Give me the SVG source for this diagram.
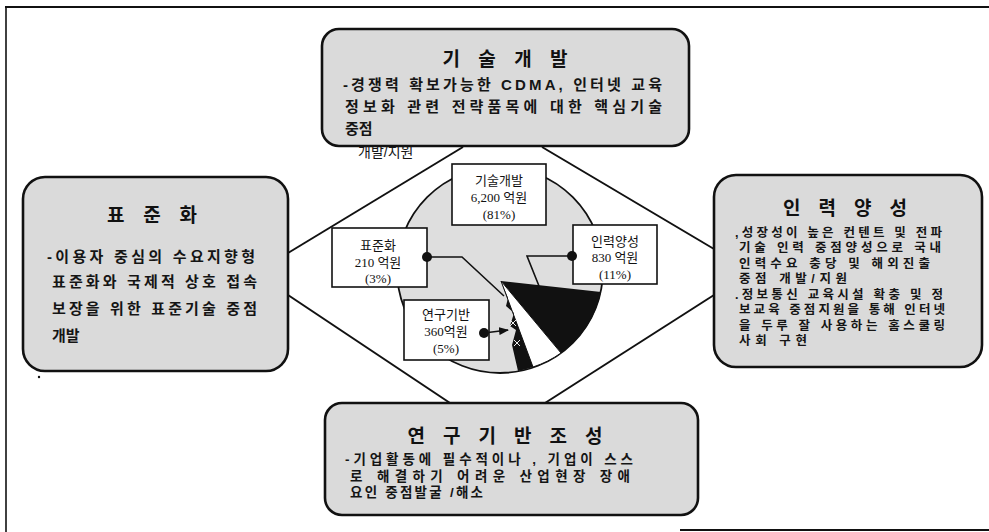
<svg xmlns="http://www.w3.org/2000/svg" width="989" height="532" viewBox="0 0 989 532">
<defs>
<style>
.frame{stroke:#111;fill:none}
.box{fill:#dadada;stroke:#111;stroke-width:2.6}
.ttl{font-family:"Liberation Sans","Noto Sans CJK KR",sans-serif;font-weight:700;font-size:19px;fill:#111;text-anchor:middle}
.body{font-family:"Liberation Sans","Noto Sans CJK KR",sans-serif;font-weight:700;font-size:15px;fill:#151515}
.bodym{font-family:"Liberation Sans","Noto Sans CJK KR",sans-serif;font-weight:700;font-size:13.5px;fill:#151515}
.bodys{font-family:"Liberation Sans","Noto Sans CJK KR",sans-serif;font-weight:700;font-size:12.5px;fill:#151515}
.conn{stroke:#111;stroke-width:2;fill:none}
.lead{stroke:#111;stroke-width:1.6;fill:none}
.lbl{fill:#fff;stroke:#111;stroke-width:1.6}
.lt{font-family:"Liberation Serif","Noto Sans CJK KR",serif;font-size:13px;fill:#111;text-anchor:middle}
.dot{fill:#111}
.reg{font-family:"Liberation Sans","Noto Sans CJK KR",sans-serif;font-weight:400;font-size:14px;fill:#151515}
</style>
<marker id="ah" markerWidth="10" markerHeight="8" refX="9" refY="4" orient="auto" markerUnits="userSpaceOnUse">
<path d="M0,0 L10,4 L0,8 Z" fill="#111"/>
</marker>
</defs>
<rect width="989" height="532" fill="#fff"/>
<g id="frame">
<line class="frame" x1="5" y1="7" x2="989" y2="7" stroke-width="2"/>
<line class="frame" x1="6" y1="7" x2="6" y2="532" stroke-width="1.6"/>
<line class="frame" x1="680" y1="530" x2="989" y2="530" stroke-width="1.8"/>
<circle cx="39" cy="377" r="1.2" fill="#111"/>
</g>
<g id="connectors">
<line class="conn" x1="463" y1="147" x2="288" y2="253"/>
<line class="conn" x1="542" y1="147" x2="714" y2="249"/>
<line class="conn" x1="288" y1="295" x2="450" y2="403"/>
<line class="conn" x1="714" y1="295" x2="545" y2="403"/>
</g>
<g id="pie">
<circle cx="500" cy="270" r="103" fill="#dedede" stroke="#111" stroke-width="1.8"/>
<path d="M501,281 L601,292 A103,103 0 0,1 561,353 Z" fill="#111"/>
<path d="M501,281 L561,353 A103,103 0 0,1 533,367 Z" fill="#fff" stroke="#111" stroke-width="1"/>
<path d="M501,281 L533,367 A103,103 0 0,1 518,371 L512,345 L516,330 L510,326 L514,313 L506,306 L508,298 Z" fill="#111"/>
<path d="M510,320 L516,326 M516,320 L510,326 M514,340 L520,346 M520,340 L514,346" stroke="#eee" stroke-width="1"/>
</g>
<g id="leaders">
<polyline class="lead" points="427,257 462,257 504,296"/>
<polyline class="lead" points="572,256 527,256 539,286"/>
<line class="lead" x1="484" y1="333" x2="508" y2="330" stroke-width="2" marker-end="url(#ah)"/>
</g>
<g id="label-tech">
<rect class="lbl" x="452" y="164" width="94" height="61"/>
<text class="lt" x="499" y="185">기술개발</text>
<text class="lt" x="499" y="202">6,200 억원</text>
<text class="lt" x="499" y="219">(81%)</text>
</g>
<g id="label-std">
<rect class="lbl" x="332" y="228" width="95" height="59"/>
<text class="lt" x="378" y="250">표준화</text>
<text class="lt" x="378" y="267">210 억원</text>
<text class="lt" x="378" y="283">(3%)</text>
<circle class="dot" cx="427" cy="257" r="5"/>
</g>
<g id="label-hr">
<rect class="lbl" x="573" y="225" width="84" height="59"/>
<text class="lt" x="615" y="246">인력양성</text>
<text class="lt" x="615" y="262">830 억원</text>
<text class="lt" x="615" y="279">(11%)</text>
<circle class="dot" cx="572" cy="256" r="5"/>
</g>
<g id="label-res">
<rect class="lbl" x="404" y="300" width="85" height="60"/>
<text class="lt" x="446" y="319">연구기반</text>
<text class="lt" x="446" y="336">360억원</text>
<text class="lt" x="446" y="353">(5%)</text>
<circle class="dot" cx="484" cy="333" r="5"/>
</g>
<g id="node-tech">
<rect class="box" x="322" y="29" width="367" height="117" rx="17"/>
<text class="ttl" x="505" y="66" textLength="125" lengthAdjust="spacing">기 술 개 발</text>
<text class="body" x="343" y="90" textLength="319" lengthAdjust="spacing">-경쟁력 확보가능한 CDMA, 인터넷 교육</text>
<text class="body" x="345" y="112" textLength="317" lengthAdjust="spacing">정보화 관련 전략품목에 대한 핵심기술</text>
<text class="body" x="345" y="134">중점</text>
<text class="reg" x="358" y="157">개발/지원</text>
</g>
<g id="node-std">
<rect class="box" x="23" y="177" width="265" height="194" rx="22"/>
<text class="ttl" x="152" y="222" textLength="90" lengthAdjust="spacing">표 준 화</text>
<text class="body" x="47" y="262" textLength="208" lengthAdjust="spacing">-이용자 중심의 수요지향형</text>
<text class="body" x="52" y="287" textLength="205" lengthAdjust="spacing">표준화와 국제적 상호 접속</text>
<text class="body" x="52" y="314" textLength="205" lengthAdjust="spacing">보장을 위한 표준기술 중점</text>
<text class="body" x="52" y="341">개발</text>
</g>
<g id="node-hr">
<rect class="box" x="714" y="175" width="268" height="192" rx="22"/>
<text class="ttl" x="845" y="215" textLength="124" lengthAdjust="spacing">인 력 양 성</text>
<text class="bodys" x="735" y="237" textLength="207" lengthAdjust="spacing">,성장성이 높은 컨텐트 및 전파</text>
<text class="bodys" x="739" y="252" textLength="202" lengthAdjust="spacing">기술 인력 중점양성으로 국내</text>
<text class="bodys" x="739" y="268" textLength="191" lengthAdjust="spacing">인력수요 충당 및 해외진출</text>
<text class="bodys" x="739" y="283" textLength="108" lengthAdjust="spacing">중점 개발/지원</text>
<text class="bodys" x="735" y="299" textLength="208" lengthAdjust="spacing">.정보통신 교육시설 확충 및 정</text>
<text class="bodys" x="739" y="314" textLength="206" lengthAdjust="spacing">보교육 중점지원을 통해 인터넷</text>
<text class="bodys" x="739" y="330" textLength="206" lengthAdjust="spacing">을 두루 잘 사용하는 홈스쿨링</text>
<text class="bodys" x="739" y="345" textLength="68" lengthAdjust="spacing">사회 구현</text>
</g>
<g id="node-res">
<rect class="box" x="325" y="403" width="373" height="112" rx="17"/>
<text class="ttl" x="505" y="443" textLength="195" lengthAdjust="spacing">연 구 기 반 조 성</text>
<text class="bodym" x="345" y="464" textLength="288" lengthAdjust="spacing">-기업활동에 필수적이나 , 기업이 스스</text>
<text class="bodym" x="350" y="481" textLength="280" lengthAdjust="spacing">로 해결하기 어려운 산업현장 장애</text>
<text class="bodym" x="350" y="497" textLength="133" lengthAdjust="spacing">요인 중점발굴 /해소</text>
</g>
</svg>
